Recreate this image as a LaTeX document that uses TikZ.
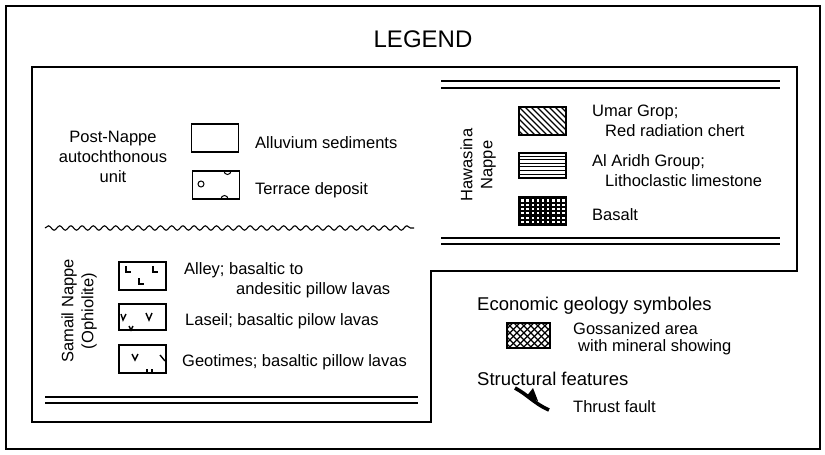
\documentclass[tikz,border=0pt]{standalone}
\usepackage{fontspec}
\setmainfont{Liberation Sans}
\usetikzlibrary{decorations.pathmorphing}

\begin{document}
\begin{tikzpicture}[x=1pt, y=-1pt,
    every node/.style={inner sep=0pt, font=\fontsize{16.5}{20}\selectfont},
    frame/.style={line width=1.4pt},
    keybox/.style={draw, line width=1.3pt, minimum width=47pt, minimum height=28pt},
    keytext/.style={anchor=north west, align=left},
    headtext/.style={anchor=north west, font=\fontsize{18.5}{22}\selectfont},
    sideline/.style={line width=1.1pt},
    hatch/.style={line width=1.2pt},
    sign/.style={line width=1.4pt}]
  \useasboundingbox (0,0) rectangle (825,455);
  \draw[frame] (6,6) rectangle (820,449);
  \draw[frame] (32,67) -- (797,67) -- (797,271) -- (431,271) -- (431,422) -- (32,422) -- cycle;
  \node[anchor=north, font=\fontsize{24}{28}\selectfont] (title) at (423,31) {LEGEND};

  % post-nappe unit
  \node[anchor=north, align=center] (postnappe) at (113,131) {Post-Nappe\\autochthonous\\unit};
  \node[keybox] (alluvium) at (215,138) {};
  \node[keytext] (alluviumtxt) at (255,136) {Alluvium sediments};
  \node[keybox] (terrace) at (216,185) {};
  \node[keytext] (terracetxt) at (255,182) {Terrace deposit};
  \draw[line width=1pt] (201,184) circle[radius=3pt];
  \draw[line width=1pt] (224,171) arc[start angle=180, end angle=360, radius=3.5pt];
  \draw[line width=1pt] (221,199) arc[start angle=180, end angle=0, radius=3.5pt];
  \draw[line width=1.1pt, decorate, decoration={snake, segment length=11.2pt, amplitude=2.2pt}] (45,228) -- (414,228);

  % hawasina nappe
  \draw[sideline] (441,81) -- (780,81);
  \draw[sideline] (441,88) -- (780,88);
  \draw[sideline] (441,238) -- (780,238);
  \draw[sideline] (441,244) -- (780,244);
  \node[rotate=90, align=center] (hawasina) at (478,165) {Hawasina\\Nappe};
  \node[keybox] (umar) at (542.5,121) {};
  \node[keybox, minimum height=25pt] (alaridh) at (542.5,165.5) {};
  \node[keybox] (basalt) at (542.5,211) {};
  \node[keytext] (umartxt) at (592,105) {Umar Grop;\\\hspace*{13pt}Red radiation chert};
  \node[keytext] (alaridhtxt) at (592,154) {Al Aridh Group;\\\hspace*{13pt}Lithoclastic limestone};
  \node[keytext] (basalttxt) at (592,208) {Basalt};
  \begin{scope}
    \clip (umar.south west) rectangle (umar.north east);
    \foreach \d in {-30,-24,...,48} \draw[hatch] (umar.north west) ++(\d,0) -- ++(30,30);
  \end{scope}
  \foreach \k in {1,...,6} \draw[line width=0.9pt] (alaridh.north west) ++(0,\k*3.6) -- ++(47,0);
  \fill (basalt.north west) rectangle (basalt.south east);
  \foreach \i in {0,...,8} \foreach \j in {0,...,5}
    \fill[white] (basalt.north west) ++(3+\i*5.1,3+\j*4.3) rectangle ++(2.6,2.2);

  % samail nappe
  \node[rotate=90, align=center] (samail) at (79,311) {Samail Nappe\\(Ophiolite)};
  \node[keybox] (alley) at (142.5,276) {};
  \node[keybox, minimum height=26pt] (laseil) at (142.5,317) {};
  \node[keybox] (geotimes) at (142.5,359) {};
  \node[keytext] (alleytxt) at (184,262) {Alley; basaltic to\\\hspace*{52pt}andesitic pillow lavas};
  \node[keytext] (laseiltxt) at (185,313) {Laseil; basaltic pilow lavas};
  \node[keytext] (geotimestxt) at (182,354) {Geotimes; basaltic pillow lavas};
  \draw[sign] (126,266) -- (126,272) -- (131,272);
  \draw[sign] (153,266) -- (153,272) -- (158,272);
  \draw[sign] (139,278) -- (139,284) -- (144,284);
  \draw[sign] (121,314) -- (123,320) -- (126,314);
  \draw[sign] (146,313) -- (149,320) -- (152,313);
  \draw[sign] (129,326) -- (131,330) -- (133,326);
  \draw[sign] (132,354) -- (135,360) -- (138,354);
  \draw[sign] (160,355) -- (165,361);
  \draw[sign] (147,373) -- (147,369);
  \draw[sign] (152,373) -- (152,369);
  \draw[sideline] (45,397) -- (418,397);
  \draw[sideline] (45,403) -- (418,403);

  % economic geology and structures
  \node[headtext] (economic) at (477,297) {Economic geology symboles};
  \node[keybox, minimum width=43pt, minimum height=25pt] (gossan) at (528.5,335.5) {};
  \node[keytext, font=\fontsize{16.5}{17}\selectfont] (gossantxt) at (573,322) {Gossanized area\\\hspace*{5pt}with mineral showing};
  \begin{scope}
    \clip (gossan.south west) rectangle (gossan.north east);
    \foreach \d in {-28,-21,...,77} {
      \draw[hatch] (gossan.north west) ++(\d,0) -- ++(28,28);
      \draw[hatch] (gossan.north west) ++(\d,0) -- ++(-28,28);
    }
  \end{scope}
  \node[headtext] (structural) at (477,372) {Structural features};
  \coordinate (tfa) at (515,388);
  \coordinate (tfb) at (549,410);
  \draw[line width=3.6pt] (tfa) .. controls (528,395) and (535,404) .. (tfb);
  \fill (526,397) -- (533,388) -- (538,401) -- cycle;
  \node[keytext] (thrusttxt) at (573,400) {Thrust fault};
\end{tikzpicture}
\end{document}
